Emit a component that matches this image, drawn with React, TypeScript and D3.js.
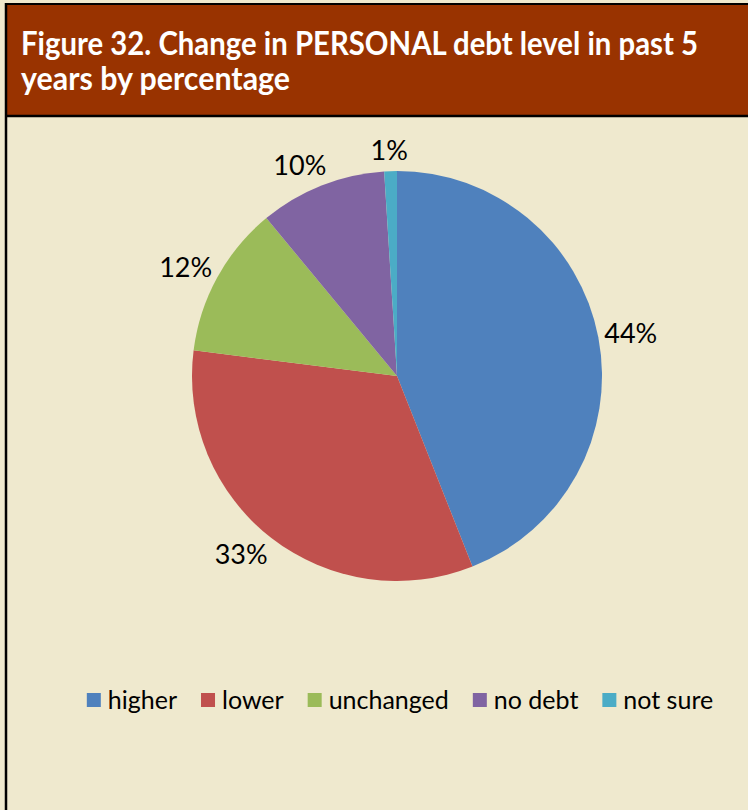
import React, { useEffect, useRef } from "react";
import * as d3 from "d3";

const categories = ["higher", "lower", "unchanged", "no debt", "not sure"];
const values = [44, 33, 12, 10, 1];
const labels = ["44%", "33%", "12%", "10%", "1%"];
const colors = ["#4F81BD", "#C0504D", "#9BBB59", "#8064A2", "#4BACC6"];
const titleLines = ["Figure 32. Change in PERSONAL debt level in past 5", "years by percentage"];

const W = 748;
const H = 810;

export default function App() {
  const ref = useRef<SVGSVGElement | null>(null);

  useEffect(() => {
    const svg = d3.select(ref.current);
    svg.selectAll("*").remove();

    // backgrounds
    svg.append("rect").attr("x", 0).attr("y", 0).attr("width", W).attr("height", H).attr("fill", "#EFE9CE");
    svg.append("rect").attr("x", 6).attr("y", 4).attr("width", W - 6).attr("height", 111).attr("fill", "#993300");
    svg.append("line").attr("x1", 6).attr("x2", W).attr("y1", 4).attr("y2", 4).attr("stroke", "#000").attr("stroke-width", 2);
    svg.append("line").attr("x1", 6).attr("x2", W).attr("y1", 116).attr("y2", 116).attr("stroke", "#000").attr("stroke-width", 2.5);
    svg.append("line").attr("x1", 6).attr("x2", 6).attr("y1", 3).attr("y2", H).attr("stroke", "#000").attr("stroke-width", 2.5);

    // title
    const tl = [677, 269];
    titleLines.forEach((t, i) => {
      svg
        .append("text")
        .attr("x", 21)
        .attr("y", 55 + i * 35)
        .attr("fill", "#fff")
        .attr("font-family", "Lato, 'Open Sans', sans-serif")
        .attr("font-weight", 700)
        .attr("font-size", 32)
        .attr("textLength", tl[i])
        .attr("lengthAdjust", "spacingAndGlyphs")
        .text(t);
    });

    // pie
    const cx = 397;
    const cy = 376;
    const r = 205;
    const pie = d3.pie<number>().sort(null).value((d) => d);
    const arcs = pie(values);
    const arc = d3.arc<d3.PieArcDatum<number>>().innerRadius(0).outerRadius(r);
    const g = svg.append("g").attr("transform", `translate(${cx},${cy})`);
    g.selectAll("path")
      .data(arcs)
      .join("path")
      .attr("d", arc)
      .attr("fill", (_d, i) => colors[i]);

    const gap = 6;
    const texts = g
      .selectAll("text")
      .data(arcs)
      .join("text")
      .attr("text-anchor", "middle")
      .attr("dy", "0.35em")
      .attr("font-family", "Lato, sans-serif")
      .attr("font-size", 27)
      .attr("fill", "#000")
      .text((_d, i) => labels[i]);
    texts.attr("transform", function (d) {
      const a = (d.startAngle + d.endAngle) / 2;
      const dx = Math.sin(a);
      const dy = -Math.cos(a);
      const bb = (this as SVGTextElement).getBBox();
      const w = bb.width;
      const h = 30;
      const px = dx * (r + gap);
      const py = dy * (r + gap);
      const ox = (w / 2) * Math.max(-1, Math.min(1, dx * 2));
      const oy = (h / 2) * dy;
      return `translate(${px + ox},${py + oy})`;
    });

    // legend
    const lg = svg.append("g");
    const sq = 14;
    const gapSq = 7;
    const gapItem = 24;
    let x = 0;
    categories.forEach((c, i) => {
      const item = lg.append("g");
      item.append("rect").attr("x", 0).attr("y", -sq + 1).attr("width", sq).attr("height", sq).attr("fill", colors[i]);
      const t = item
        .append("text")
        .attr("x", sq + gapSq)
        .attr("y", 3)
        .attr("font-family", "Lato, sans-serif")
        .attr("font-size", 25)
        .attr("fill", "#000")
        .text(c);
      const w = (t.node() as SVGTextElement).getComputedTextLength();
      item.attr("transform", `translate(${x},0)`);
      x += sq + gapSq + w + gapItem;
    });
    const total = x - gapItem;
    lg.attr("transform", `translate(${400 - total / 2},${706})`);
  }, []);

  return (
    <div style={{ position: "absolute", left: 0, top: 0 }}>
      <svg ref={ref} width={W} height={H} style={{ display: "block" }} />
    </div>
  );
}
